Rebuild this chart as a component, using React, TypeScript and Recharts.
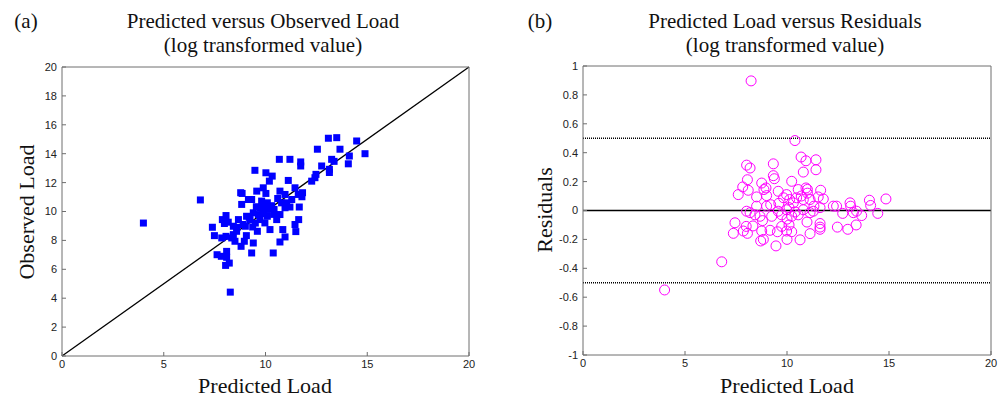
import React from 'react'
import {
  ScatterChart,
  Scatter,
  XAxis,
  YAxis,
  ReferenceLine,
} from 'recharts'

// (a) predicted vs observed, log values
const predictedA = [
  4.0, 6.8, 7.39, 7.49, 7.62, 7.83, 8.09, 8.04, 8.22, 8.27, 8.09, 7.88, 8.06, 7.98, 8.17, 8.42, 8.42, 8.06,
  8.58, 8.67, 8.78, 8.85, 8.83, 8.8, 8.96, 9.06, 9.01, 9.24, 9.16, 9.32, 9.4, 9.32, 9.48, 9.37, 9.6, 9.73,
  9.65, 9.57, 9.89, 10.02, 10.19, 10.33, 10.02, 9.89, 10.09, 9.89, 10.09, 9.97, 10.22, 10.38, 10.25, 10.42,
  10.55, 10.71, 10.68, 11.2, 11.73, 11.73, 11.12, 10.71, 10.96, 11.04, 11.2, 10.96, 10.79, 10.85, 10.96,
  10.71, 11.29, 11.45, 11.61, 11.82, 11.79, 11.66, 11.45, 11.49, 12.27, 12.43, 12.48, 12.55, 12.76, 13.09,
  13.5, 13.66, 13.25, 13.14, 13.14, 13.37, 14.07, 14.12, 14.48, 14.89, 8.34, 8.5, 7.85, 9.07, 9.4, 9.73,
  10.06, 9.55, 9.81, 11.63, 9.2, 9.5, 10.3, 10.6, 8.9, 9.9, 10.4, 8.6,
]
const observedA = [
  9.2, 10.8, 8.91, 8.33, 7.01, 6.9, 6.83, 6.27, 6.43, 4.42, 7.24, 9.44, 9.72, 9.17, 9.26, 8.98, 8.4, 8.28,
  8.63, 9.44, 11.3, 11.25, 10.49, 7.59, 7.94, 8.33, 8.98, 9.44, 10.83, 10.83, 7.82, 7.13, 12.85, 8.93, 8.63,
  10.26, 9.79, 11.41, 11.64, 12.68, 12.1, 12.45, 11.25, 10.37, 10.6, 9.86, 9.67, 9.21, 8.75, 7.13, 10.19,
  10.14, 9.44, 9.79, 13.61, 13.61, 13.43, 13.15, 12.15, 11.41, 11.18, 10.6, 10.31, 10.26, 10.6, 8.75, 8.24,
  7.89, 10.83, 11.64, 11.18, 11.3, 11.02, 10.31, 9.1, 8.61, 12.1, 12.34, 12.57, 14.31, 13.15, 15.07, 15.11,
  14.31, 13.61, 12.92, 12.7, 13.47, 13.3, 13.84, 14.88, 14.0, 8.17, 7.94, 8.17, 9.67, 9.91, 9.44, 10.14,
  10.33, 10.72, 9.44, 9.6, 9.2, 10.4, 10.9, 9.1, 10.0, 9.8, 8.9,
]

// (b) predicted vs residuals
const predictedB = [
  4.0, 6.8, 8.24, 10.39, 10.69, 10.93, 11.42, 11.42, 10.8, 9.33, 8.02, 8.19, 8.06, 7.83, 8.1, 7.61, 9.33,
  9.38, 8.76, 8.97, 8.87, 9.0, 8.51, 9.57, 10.23, 10.55, 10.93, 11.0, 11.65, 11.78, 11.53, 9.98, 9.83, 10.13,
  10.31, 10.47, 10.8, 11.13, 11.32, 12.27, 12.43, 13.09, 13.12, 14.04, 14.1, 14.85, 8.51, 8.02, 8.19, 8.43,
  8.68, 9.0, 9.25, 9.57, 9.74, 9.98, 10.23, 10.55, 10.8, 11.13, 11.29, 11.62, 12.73, 13.25, 13.41, 13.66,
  14.45, 7.45, 7.37, 7.86, 8.06, 8.0, 8.33, 8.76, 8.71, 8.84, 9.17, 9.46, 9.53, 9.74, 9.98, 10.0, 10.23,
  10.64, 10.1, 10.98, 11.13, 11.62, 11.62, 11.62, 12.47, 12.98, 13.39, 9.6, 10.1, 10.4, 10.7, 9.2, 8.8,
  11.0, 10.0,
]
const residualB = [
  -0.55, -0.355, 0.897, 0.484, 0.37, 0.344, 0.351, 0.282, 0.266, 0.323, 0.314, 0.294, 0.213, 0.163, 0.14,
  0.11, 0.241, 0.22, 0.19, 0.156, 0.145, 0.103, 0.094, 0.133, 0.202, 0.145, 0.156, 0.146, 0.14, 0.08, 0.094,
  0.11, 0.088, 0.076, 0.053, 0.088, 0.076, 0.076, 0.03, 0.03, 0.03, 0.053, 0.03, 0.071, 0.035, 0.08, 0.03,
  -0.005, -0.015, -0.03, -0.04, 0.03, -0.04, -0.005, -0.03, 0.005, -0.04, -0.03, 0.005, -0.015, -0.005,
  0.02, -0.02, -0.015, -0.005, -0.035, -0.02, -0.085, -0.158, -0.142, -0.158, -0.11, -0.107, -0.142,
  -0.211, -0.2, -0.137, -0.245, -0.147, -0.11, -0.142, -0.2, -0.147, -0.203, -0.1, -0.08, -0.16, -0.09,
  -0.115, -0.13, -0.115, -0.13, -0.1, 0.05, 0.02, -0.01, 0.1, 0.04, -0.07, 0.12, -0.06,
]

const xTicks = [0, 5, 10, 15, 20]
const yTicksA = [0, 2, 4, 6, 8, 10, 12, 14, 16, 18, 20]
const yTicksB = [-1, -0.8, -0.6, -0.4, -0.2, 0, 0.2, 0.4, 0.6, 0.8, 1]
const limitsB = [-0.5, 0.5]

const dataA = predictedA.map((p, i) => ({ x: p, y: observedA[i] }))
const dataB = predictedB.map((p, i) => ({ x: p, y: residualB[i] }))

const serif = '"Liberation Serif", "Times New Roman", serif'
const sans = '"Liberation Sans", Arial, sans-serif'
const axisColor = '#6e6e6e'
const tickStyle = { fill: '#222', fontSize: 11, fontFamily: sans }
const blank = () => <g />

const Ring = (props: any) => (
  <circle cx={props.cx} cy={props.cy} r={5} fill="none" stroke="#ff00ff" strokeWidth={1} />
)
const Box = (props: any) => (
  <rect x={props.cx - 3.5} y={props.cy - 3.5} width={7} height={7} fill="#0000ff" />
)

function Label({ left, top, width, size, children }: any) {
  return (
    <div
      style={{
        position: 'absolute',
        left,
        top,
        width,
        textAlign: 'center',
        fontFamily: serif,
        fontSize: size,
        lineHeight: 1,
        color: '#111',
        whiteSpace: 'nowrap',
      }}
    >
      {children}
    </div>
  )
}

function VLabel({ cx, cy, size, children }: any) {
  return (
    <div
      style={{
        position: 'absolute',
        left: cx - 100,
        top: cy - size / 2,
        width: 200,
        textAlign: 'center',
        fontFamily: serif,
        fontSize: size,
        lineHeight: 1,
        color: '#111',
        transform: 'rotate(-90deg)',
        whiteSpace: 'nowrap',
      }}
    >
      {children}
    </div>
  )
}

export default function App() {
  return (
    <div style={{ position: 'absolute', left: 0, top: 0, width: 1005, height: 397, background: '#fff' }}>
      <div style={{ position: 'absolute', left: 0, top: 0 }}>
        <ScatterChart width={480} height={397} margin={{ top: 62, right: 6, left: 12, bottom: 21 }}>
          <XAxis
            type="number"
            dataKey="x"
            domain={[0, 20]}
            ticks={xTicks}
            height={20}
            tick={tickStyle}
            tickSize={-4}
            tickMargin={8}
            stroke={axisColor}
            allowDataOverflow
          />
          <XAxis
            xAxisId="top"
            orientation="top"
            type="number"
            dataKey="x"
            domain={[0, 20]}
            ticks={xTicks}
            height={5}
            tick={blank}
            tickSize={-4}
            stroke={axisColor}
          />
          <YAxis
            type="number"
            dataKey="y"
            domain={[0, 20]}
            ticks={yTicksA}
            width={50}
            tick={tickStyle}
            tickSize={-4}
            tickMargin={9}
            stroke={axisColor}
            allowDataOverflow
          />
          <YAxis
            yAxisId="right"
            orientation="right"
            type="number"
            dataKey="y"
            domain={[0, 20]}
            ticks={yTicksA}
            width={5}
            tick={blank}
            tickSize={-4}
            stroke={axisColor}
          />
          <ReferenceLine
            segment={[
              { x: 0, y: 0 },
              { x: 20, y: 20 },
            ]}
            stroke="#000"
            strokeWidth={1.3}
          />
          <Scatter data={dataA} shape={Box} isAnimationActive={false} />
        </ScatterChart>
      </div>

      <div style={{ position: 'absolute', left: 500, top: 0 }}>
        <ScatterChart width={505} height={397} margin={{ top: 61, right: 9, left: 33, bottom: 22 }}>
          <XAxis
            type="number"
            dataKey="x"
            domain={[0, 20]}
            ticks={xTicks}
            height={20}
            tick={tickStyle}
            tickSize={-4}
            tickMargin={8}
            stroke={axisColor}
            allowDataOverflow
          />
          <XAxis
            xAxisId="top"
            orientation="top"
            type="number"
            dataKey="x"
            domain={[0, 20]}
            ticks={xTicks}
            height={5}
            tick={blank}
            tickSize={-4}
            stroke={axisColor}
          />
          <YAxis
            type="number"
            dataKey="y"
            domain={[-1, 1]}
            ticks={yTicksB}
            width={50}
            tick={tickStyle}
            tickSize={-4}
            tickMargin={9}
            stroke={axisColor}
            allowDataOverflow
          />
          <YAxis
            yAxisId="right"
            orientation="right"
            type="number"
            dataKey="y"
            domain={[-1, 1]}
            ticks={yTicksB}
            width={5}
            tick={blank}
            tickSize={-4}
            stroke={axisColor}
          />
          <ReferenceLine y={0} stroke="#000" strokeWidth={1.5} />
          {limitsB.map((v) => (
            <ReferenceLine key={v} y={v} stroke="#000" strokeWidth={1.5} strokeDasharray="1 1" />
          ))}
          <Scatter data={dataB} shape={Ring} isAnimationActive={false} />
        </ScatterChart>
      </div>

      <Label left={0} top={11} width={52} size={21}>(a)</Label>
      <Label left={113} top={11} width={300} size={21}>Predicted versus Observed Load</Label>
      <Label left={113} top={35} width={300} size={21}>(log transformed value)</Label>
      <Label left={115} top={375} width={300} size={22}>Predicted Load</Label>
      <VLabel cx={27} cy={212} size={22}>Observed Load</VLabel>

      <Label left={514} top={11} width={52} size={21}>(b)</Label>
      <Label left={635} top={11} width={300} size={21}>Predicted Load versus Residuals</Label>
      <Label left={635} top={35} width={300} size={21}>(log transformed value)</Label>
      <Label left={637} top={375} width={300} size={22}>Predicted Load</Label>
      <VLabel cx={545} cy={210} size={22}>Residuals</VLabel>
    </div>
  )
}
